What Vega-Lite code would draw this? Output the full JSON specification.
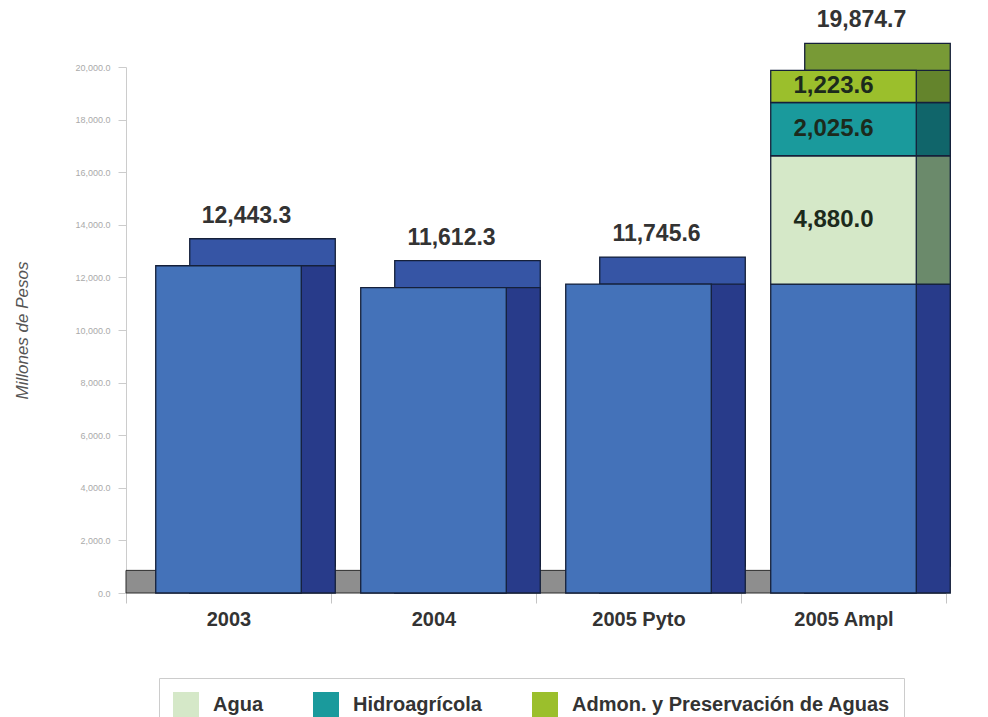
{
  "$schema": "https://vega.github.io/schema/vega-lite/v6.json",
  "width": 820,
  "height": 526,
  "autosize": "none",
  "padding": {"left": 126, "top": 67, "right": 42, "bottom": 124},
  "background": "white",
  "config": {"view": {"stroke": null}, "font": "Liberation Sans"},
  "datasets": {
    "seg": [
      {"cat": "2003", "serie": "Base", "value": 12443.3},
      {"cat": "2004", "serie": "Base", "value": 11612.3},
      {"cat": "2005 Pyto", "serie": "Base", "value": 11745.6},
      {"cat": "2005 Ampl", "serie": "Base", "value": 11745.5},
      {"cat": "2005 Ampl", "serie": "Agua", "value": 4880.0},
      {"cat": "2005 Ampl", "serie": "Hidroagrícola", "value": 2025.6},
      {"cat": "2005 Ampl", "serie": "Admon. y Preservación de Aguas", "value": 1223.6}
    ],
    "tot": [
      {"cat": "2003", "total": 12443.3},
      {"cat": "2004", "total": 11612.3},
      {"cat": "2005 Pyto", "total": 11745.6},
      {"cat": "2005 Ampl", "total": 19874.7}
    ]
  },
  "data": {"name": "seg"},
  "transform": [
    {"calculate": "indexof(['Base','Agua','Hidroagrícola','Admon. y Preservación de Aguas'], datum.serie)", "as": "k"},
    {"stack": "value", "groupby": ["cat"], "sort": [{"field": "k", "order": "ascending"}], "as": ["v0", "v1"]},
    {"calculate": "(datum.v0 + datum.v1) / 2", "as": "mid"}
  ],
  "layer": [
    {
      "data": {"values": [{}]},
      "transform": [],
      "mark": {"type": "rect", "color": "#8e8e8e", "stroke": "#2a2a2a", "strokeWidth": 1, "x2Offset": 29},
      "encoding": {
        "y": {"datum": 0, "type": "quantitative"},
        "y2": {"datum": 860}
      }
    },
    {
      "mark": {"type": "bar", "width": {"band": 0.71}, "xOffset": 34, "x2Offset": 34, "yOffset": -27, "y2Offset": -27, "stroke": "#15203a", "strokeWidth": 1.3},
      "encoding": {
        "x": {"field": "cat", "type": "nominal", "sort": ["2003", "2004", "2005 Pyto", "2005 Ampl"],
              "scale": {"paddingInner": 0, "paddingOuter": 0}},
        "y": {"field": "v1", "type": "quantitative"},
        "y2": {"field": "v0"},
        "color": {"field": "serie", "type": "nominal", "legend": null,
                  "scale": {"domain": ["Base", "Agua", "Hidroagrícola", "Admon. y Preservación de Aguas"],
                            "range": ["#3655a5", "#6b8a6b", "#10656a", "#789a36"]}}
      }
    },
    {
      "mark": {"type": "bar", "width": {"band": 0.71}, "xOffset": 34, "x2Offset": 34, "stroke": "#15203a", "strokeWidth": 1.3},
      "encoding": {
        "x": {"field": "cat", "type": "nominal", "sort": ["2003", "2004", "2005 Pyto", "2005 Ampl"]},
        "y": {"field": "v1", "type": "quantitative"},
        "y2": {"field": "v0"},
        "color": {"field": "serie", "type": "nominal", "legend": null,
                  "scale": {"domain": ["Base", "Agua", "Hidroagrícola", "Admon. y Preservación de Aguas"],
                            "range": ["#283b8a", "#6b8a6b", "#10656a", "#64842c"]}}
      }
    },
    {
      "mark": {"type": "bar", "width": {"band": 0.71}, "stroke": "#15203a", "strokeWidth": 1.3},
      "encoding": {
        "x": {"field": "cat", "type": "nominal", "sort": ["2003", "2004", "2005 Pyto", "2005 Ampl"],
              "axis": {"title": null, "domain": false, "tickBand": "extent", "tickColor": "#c4c4c4", "tickSize": 10,
                       "labelFontSize": 20, "labelFontWeight": "bold", "labelColor": "#333333", "labelPadding": 16,
                       "labelAngle": 0, "labelAlign": "center", "labelBound": false, "labelFlush": false}},
        "y": {"field": "v1", "type": "quantitative",
              "scale": {"domain": [0, 20000], "nice": false},
              "axis": {"title": "Millones de Pesos", "titleFontStyle": "italic", "titleFontWeight": "normal", "titleFontSize": 17,
                       "titleColor": "#555555", "titlePadding": 43, "values": [0, 2000, 4000, 6000, 8000, 10000, 12000, 14000, 16000, 18000, 20000],
                       "format": ",.1f", "labelFontSize": 9, "labelColor": "#aaaaaa", "domainColor": "#cccccc", "tickColor": "#cccccc",
                       "tickSize": 8, "labelPadding": 8, "grid": false}},
        "y2": {"field": "v0"},
        "color": {"field": "serie", "type": "nominal",
                  "scale": {"domain": ["Base", "Agua", "Hidroagrícola", "Admon. y Preservación de Aguas"],
                            "range": ["#4472b9", "#d5e8c8", "#1a9a9c", "#9bbf2c"]},
                  "legend": {"title": null, "orient": "none", "legendX": 33, "legendY": 611, "direction": "horizontal",
                             "values": ["Agua", "Hidroagrícola", "Admon. y Preservación de Aguas"],
                             "symbolType": "square", "symbolSize": 676, "symbolStrokeWidth": 0,
                             "labelFontSize": 20, "labelFontWeight": "bold", "labelColor": "#333333", "labelOffset": 14,
                             "labelLimit": 500, "columnPadding": 50, "padding": 14, "strokeColor": "#cccccc"}}
      }
    },
    {
      "transform": [{"filter": "datum.serie != 'Base'"}],
      "mark": {"type": "text", "fontSize": 24, "fontWeight": "bold", "color": "#1c2a1c", "dx": -10, "baseline": "middle"},
      "encoding": {
        "x": {"field": "cat", "type": "nominal", "sort": ["2003", "2004", "2005 Pyto", "2005 Ampl"]},
        "y": {"field": "mid", "type": "quantitative"},
        "text": {"field": "value", "type": "quantitative", "format": ",.1f"}
      }
    },
    {
      "data": {"name": "tot"},
      "transform": [],
      "mark": {"type": "text", "fontSize": 23, "fontWeight": "bold", "color": "#333333", "dx": 18, "dy": -50, "baseline": "middle"},
      "encoding": {
        "x": {"field": "cat", "type": "nominal", "sort": ["2003", "2004", "2005 Pyto", "2005 Ampl"]},
        "y": {"field": "total", "type": "quantitative"},
        "text": {"field": "total", "type": "quantitative", "format": ",.1f"}
      }
    }
  ],
  "resolve": {"scale": {"color": "independent"}}
}
